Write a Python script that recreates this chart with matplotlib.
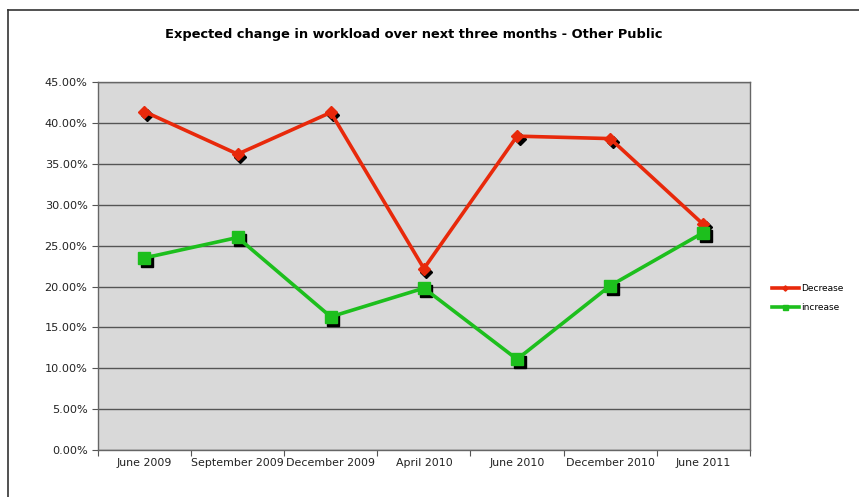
import numpy as np
import matplotlib
matplotlib.use('Agg')
import matplotlib.pyplot as plt
import matplotlib.transforms as mtransforms
from matplotlib.lines import Line2D
from matplotlib.ticker import PercentFormatter, FixedLocator, NullFormatter

# --- data ---
categories = ['June 2009', 'September 2009', 'December 2009', 'April 2010',
              'June 2010', 'December 2010', 'June 2011']
decrease = [41.4, 36.2, 41.3, 22.2, 38.4, 38.1, 27.6]
increase = [23.5, 26.0, 16.3, 19.8, 11.1, 20.1, 26.6]

red = '#e8290b'
green = '#1dbf1d'

fig = plt.figure(figsize=(8.59, 4.97), dpi=100)
ax = fig.add_axes([0.114, 0.0946, 0.759, 0.740])
ax.set_facecolor('#d9d9d9')

x = np.arange(len(categories))

# black drop-shadow under the markers
shadow = mtransforms.offset_copy(ax.transData, fig=fig, x=2.5, y=-3, units='dots')
ax.plot(x, decrease, linestyle='none', marker='D', markersize=6, color='black',
        transform=shadow, zorder=3)
ax.plot(x, increase, linestyle='none', marker='s', markersize=8, color='black',
        transform=shadow, zorder=3)

ax.plot(x, decrease, color=red, lw=2.6, marker='D', markersize=6, zorder=4,
        label='Decrease')
ax.plot(x, increase, color=green, lw=2.6, marker='s', markersize=8, zorder=4,
        label='increase')

ax.set_xlim(-0.5, len(categories) - 0.5)
ax.set_ylim(0, 45)
ax.set_yticks(np.arange(0, 46, 5))
ax.yaxis.set_major_formatter(PercentFormatter(decimals=2))
ax.grid(axis='y', color='#555555', lw=1)
ax.set_axisbelow(True)

# category labels centred, tick marks on boundaries
ax.xaxis.set_major_locator(FixedLocator(np.arange(-0.5, len(categories))))
ax.xaxis.set_major_formatter(NullFormatter())
ax.xaxis.set_minor_locator(FixedLocator(x))
ax.set_xticklabels(categories, minor=True)
ax.tick_params(axis='x', which='minor', length=0, pad=6, labelsize=7.9, colors='#222222')
ax.tick_params(axis='x', which='major', length=4, color='#555555')
ax.tick_params(axis='y', length=4, color='#555555', labelsize=8.1, labelcolor='#222222')

for s in ax.spines.values():
    s.set_color('#666666')
    s.set_linewidth(1)

fig.suptitle('Expected change in workload over next three months - Other Public',
             fontsize=9.35, fontweight='bold', x=0.482, y=0.943)

fig.legend(loc='center left', bbox_to_anchor=(0.889, 0.40), frameon=False,
           fontsize=6.5, handlelength=3, markerscale=0.45, labelspacing=1.1,
           handletextpad=0.2)

# outer chart border (only left and top edges are visible in the crop)
bx, by = 7.5 / 859, 1 - 9.5 / 497
fig.add_artist(Line2D([bx, bx], [0, by], transform=fig.transFigure, color='#333333', lw=1.2))
fig.add_artist(Line2D([bx, 1], [by, by], transform=fig.transFigure, color='#333333', lw=1.2))

fig.savefig('out.png', dpi=100)
